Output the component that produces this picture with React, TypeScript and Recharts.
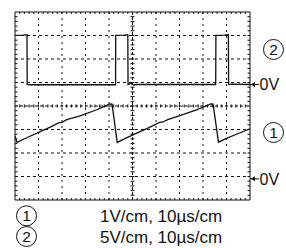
import React from 'react';
import { LineChart, Line, XAxis, YAxis, ReferenceLine, ReferenceDot } from 'recharts';

// Horizontal axis: time in µs (10 µs/cm, 10 divisions)
const timeTicks = [0, 10, 20, 30, 40, 50, 60, 70, 80, 90, 100];
// Vertical divisions of the screen (8 divisions)
const divTicks = [0, 1, 2, 3, 4, 5, 6, 7, 8];

// Channel 2: square pulse train, 5 V/cm (volts)
const ch2Time = [0, 3.5, 5.1, 5.2, 6.5, 42.8, 42.85, 46.5, 48.0, 48.1, 49.3, 50.5, 52, 85.4, 85.5, 89.0, 90.8, 90.9, 92.5, 100];
const ch2Volts = [10.45, 10.5, 10.6, 0, -0.05, -0.05, 10.45, 10.5, 10.6, 0, 0.25, -0.1, 0, 0, 10.45, 10.5, 10.6, 0, 0.1, 0];

// Channel 1: sawtooth, 1 V/cm (volts)
const ch1Time = [0, 0.85, 5, 10, 15, 18.5, 20, 22, 27.7, 34.8, 40.4, 41.3, 43.5, 47, 52, 57, 61.5, 63, 65, 70.5, 77.5, 83.3, 84.3, 86.6, 90, 95, 100];
const ch1Volts = [1.83, 1.55, 1.75, 1.98, 2.2, 2.38, 2.4, 2.52, 2.68, 2.94, 3.19, 3.18, 1.55, 1.72, 1.96, 2.18, 2.4, 2.42, 2.52, 2.7, 2.95, 3.19, 3.18, 1.56, 1.72, 1.93, 2.13];

const ch2Data = ch2Time.map((t, i) => ({ t, v: ch2Volts[i] }));
const ch1Data = ch1Time.map((t, i) => ({ t, v: ch1Volts[i] }));

const FONT = 'Liberation Sans, Arial, Helvetica, sans-serif';
const INK = '#111';

// minor tick positions (1/5 division)
const minorX: number[] = [];
for (let i = 1; i < 50; i++) minorX.push(i * 2);
const minorY: number[] = [];
for (let i = 1; i < 40; i++) minorY.push(i * 0.2);

const ZeroMarker = (props: any) => {
  const { cx, cy } = props;
  return (
    <g>
      <line x1={cx} y1={cy} x2={cx + 9} y2={cy} stroke={INK} strokeWidth={1} />
      <polygon points={`${cx + 1},${cy} ${cx + 5},${cy - 2.5} ${cx + 5},${cy + 2.5}`} fill={INK} />
      <text x={cx + 9.5} y={cy + 5.8} fontSize={16} fontFamily={FONT} fill={INK}>0V</text>
    </g>
  );
};

const Circled = ({ cx, cy, label }: { cx: number; cy: number; label: string }) => (
  <g>
    <circle cx={cx} cy={cy} r={10} fill="none" stroke={INK} strokeWidth={1} />
    <text x={cx} y={cy + 5.5} textAnchor="middle" fontSize={15.5} fontFamily={FONT} fill={INK}>{label}</text>
  </g>
);

export default function App() {
  const tk = 0.085; // tick length in divisions (~2px)
  return (
    <div style={{ position: 'absolute', left: 0, top: 0, width: 286, height: 248, background: '#fff' }}>
      <LineChart width={286} height={248} margin={{ top: 12, right: 36, bottom: 48, left: 15 }}>
        <XAxis type="number" dataKey="t" domain={[0, 100]} ticks={timeTicks} hide allowDataOverflow />
        <YAxis yAxisId="div" type="number" domain={[0, 8]} ticks={divTicks} hide allowDataOverflow />
        <YAxis yAxisId="ch1" type="number" domain={[-0.9, 7.1]} hide allowDataOverflow />
        <YAxis yAxisId="ch2" type="number" domain={[-24.575, 15.425]} hide allowDataOverflow />

        {timeTicks.filter((t) => t > 0 && t < 100 && t !== 50).map((t) => (
          <ReferenceLine key={'gx' + t} x={t} yAxisId="div" stroke={INK} strokeWidth={1} strokeDasharray="2 4" />
        ))}
        {divTicks.filter((d) => d > 0 && d < 8 && d !== 4).map((d) => (
          <ReferenceLine key={'gy' + d} y={d} yAxisId="div" stroke={INK} strokeWidth={1} strokeDasharray="3 3" />
        ))}
        <ReferenceLine x={50} yAxisId="div" stroke={INK} strokeWidth={1} strokeDasharray="3 2" />
        <ReferenceLine y={4} yAxisId="div" stroke={INK} strokeWidth={1} strokeDasharray="3 2" />

        {minorX.map((t) => (
          <ReferenceLine key={'mt' + t} yAxisId="div" stroke={INK} strokeWidth={1} segment={[{ x: t, y: 8 }, { x: t, y: 8 - tk }]} />
        ))}
        {minorX.map((t) => (
          <ReferenceLine key={'mb' + t} yAxisId="div" stroke={INK} strokeWidth={1} segment={[{ x: t, y: 0 }, { x: t, y: tk }]} />
        ))}
        {minorX.map((t) => (
          <ReferenceLine key={'mc' + t} yAxisId="div" stroke={INK} strokeWidth={1} segment={[{ x: t, y: 4 - tk * 0.8 }, { x: t, y: 4 + tk * 0.8 }]} />
        ))}
        {minorY.map((d) => (
          <ReferenceLine key={'ml' + d} yAxisId="div" stroke={INK} strokeWidth={1} segment={[{ x: 0, y: d }, { x: tk * 12.5, y: d }]} />
        ))}
        {minorY.map((d) => (
          <ReferenceLine key={'mr' + d} yAxisId="div" stroke={INK} strokeWidth={1} segment={[{ x: 100, y: d }, { x: 100 - tk * 12.5, y: d }]} />
        ))}
        {minorY.map((d) => (
          <ReferenceLine key={'mv' + d} yAxisId="div" stroke={INK} strokeWidth={1} segment={[{ x: 50 - tk * 10, y: d }, { x: 50 + tk * 10, y: d }]} />
        ))}

        <ReferenceLine x={0} yAxisId="div" stroke={INK} strokeWidth={1} />
        <ReferenceLine x={100} yAxisId="div" stroke={INK} strokeWidth={1} />
        <ReferenceLine y={0} yAxisId="div" stroke={INK} strokeWidth={1} />
        <ReferenceLine y={8} yAxisId="div" stroke={INK} strokeWidth={1} />

        <Line data={ch2Data} dataKey="v" yAxisId="ch2" type="linear" dot={false} stroke={INK} strokeWidth={1.3} isAnimationActive={false} />
        <Line data={ch1Data} dataKey="v" yAxisId="ch1" type="linear" dot={false} stroke={INK} strokeWidth={1.3} isAnimationActive={false} />

        <ReferenceDot x={100} y={0} yAxisId="ch2" ifOverflow="visible" shape={ZeroMarker} />
        <ReferenceDot x={100} y={0} yAxisId="ch1" ifOverflow="visible" shape={ZeroMarker} />
      </LineChart>
      <svg width={286} height={248} style={{ position: 'absolute', left: 0, top: 0, pointerEvents: 'none' }}>
        <Circled cx={273.5} cy={49.5} label="2" />
        <Circled cx={273.5} cy={132.5} label="1" />
        <Circled cx={26.5} cy={215.8} label="1" />
        <Circled cx={26.5} cy={236.5} label="2" />
        <text x={100} y={221.5} fontSize={17} fontFamily={FONT} fill={INK}>1V/cm, 10µs/cm</text>
        <text x={100} y={243.2} fontSize={17} fontFamily={FONT} fill={INK}>5V/cm, 10µs/cm</text>
      </svg>
    </div>
  );
}
